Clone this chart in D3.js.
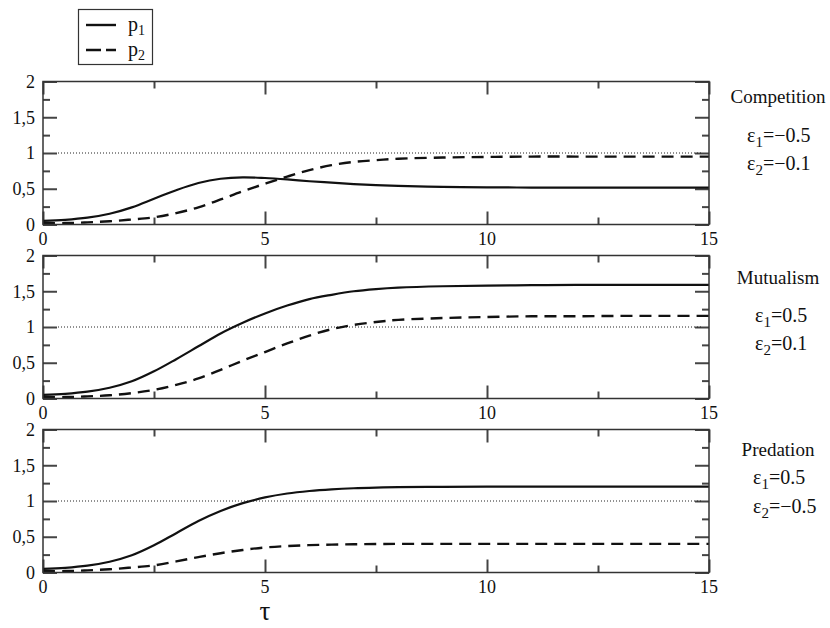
<!DOCTYPE html>
<html>
<head>
<meta charset="utf-8">
<script src="https://cdn.jsdelivr.net/npm/d3@7"></script>
<style>
  body { margin: 0; background: #fff; }
</style>
</head>
<body>
<div id="container"></div>
<script>
// time axis (tau) and the two populations for each interaction
var tau = [0,0.5,1,1.5,2,2.5,3,3.5,4,4.5,5,5.5,6,6.5,7,7.5,8,9,10,11,12,13,14,15];

var compP1 = [0.05,0.065,0.095,0.15,0.24,0.36,0.48,0.58,0.64,0.66,0.65,0.63,0.605,0.585,0.565,0.55,0.54,0.527,0.52,0.517,0.515,0.515,0.515,0.515];
var compP2 = [0.02,0.02,0.03,0.045,0.07,0.10,0.16,0.24,0.35,0.465,0.57,0.67,0.76,0.83,0.875,0.90,0.92,0.937,0.945,0.95,0.95,0.95,0.95,0.95];
var mutP1 = [0.05,0.065,0.095,0.15,0.24,0.38,0.55,0.73,0.91,1.06,1.19,1.30,1.39,1.45,1.50,1.53,1.55,1.57,1.58,1.585,1.59,1.59,1.59,1.59];
var mutP2 = [0.02,0.02,0.03,0.045,0.075,0.12,0.19,0.28,0.40,0.53,0.65,0.77,0.88,0.97,1.03,1.07,1.10,1.125,1.14,1.15,1.15,1.155,1.155,1.155];
var predP1 = [0.05,0.065,0.095,0.15,0.24,0.38,0.55,0.72,0.86,0.97,1.05,1.105,1.14,1.163,1.178,1.187,1.193,1.198,1.2,1.2,1.2,1.2,1.2,1.2];
var predP2 = [0.02,0.02,0.03,0.045,0.07,0.10,0.155,0.215,0.27,0.315,0.35,0.37,0.383,0.39,0.395,0.398,0.4,0.4,0.4,0.4,0.4,0.4,0.4,0.4];

var panelNames = ["Competition", "Mutualism", "Predation"];
var eps1 = ["\u22120.5", "0.5", "0.5"];
var eps2 = ["\u22120.1", "0.1", "\u22120.5"];
var xTicks = [0, 5, 10, 15];
var yTicks = [0, 0.5, 1, 1.5, 2];
var xMinorTicks = [2.5, 7.5, 12.5];
var yMinorTicks = [0.25, 0.75, 1.25, 1.75];

var panels = [
  {p1: compP1, p2: compP2},
  {p1: mutP1, p2: mutP2},
  {p1: predP1, p2: predP2}
];

var serif = '"Liberation Serif", serif';

var width = 830, height = 628;
var left = 43, right = 709;
var tops = [81.5, 255.5, 429.5];
var ph = 143;

var svg = d3.select("#container").append("svg")
  .attr("width", width)
  .attr("height", height)
  .style("font-family", serif);

var x = d3.scaleLinear().domain([0, 15]).range([left, right]);

// label text blocks (name + epsilon values) for each panel
var labelPos = [
  {name: 103, e1: 142, e2: 170, ex: 747},
  {name: 284, e1: 322, e2: 350, ex: 755},
  {name: 456, e1: 484, e2: 513, ex: 753}
];

function addText(sel, size) {
  return sel.append("text")
    .style("font-family", serif)
    .style("fill", "#111")
    .style("font-size", size + "px");
}

// inward tick axes, no labels
function tickAxis(g, axis, vals, len, tx, ty) {
  g.append("g")
    .attr("transform", "translate(" + tx + "," + ty + ")")
    .call(axis.tickValues(vals).tickSize(len).tickFormat(""))
    .call(function(a) { a.select(".domain").remove(); })
    .selectAll("line")
    .style("stroke", "#444")
    .style("stroke-width", "2px");
}

panels.forEach(function(p, i) {
  var pt = tops[i];
  var y = d3.scaleLinear().domain([0, 2]).range([pt + ph, pt]);
  var g = svg.append("g");

  tickAxis(g, d3.axisBottom(x), xTicks, -13, 0, pt + ph);
  tickAxis(g, d3.axisBottom(x), xMinorTicks, -7, 0, pt + ph);
  tickAxis(g, d3.axisTop(x), xTicks, -13, 0, pt);
  tickAxis(g, d3.axisTop(x), xMinorTicks, -7, 0, pt);
  tickAxis(g, d3.axisLeft(y), yTicks, -14, left, 0);
  tickAxis(g, d3.axisLeft(y), yMinorTicks, -7, left, 0);
  tickAxis(g, d3.axisRight(y), yTicks, -14, right, 0);
  tickAxis(g, d3.axisRight(y), yMinorTicks, -7, right, 0);

  // dotted reference line at 1
  g.append("line")
    .attr("x1", x(0) + 15).attr("x2", x(15) - 6)
    .attr("y1", y(1)).attr("y2", y(1))
    .style("stroke", "#222").style("stroke-width", "1px")
    .style("stroke-dasharray", "1,2");

  var line = function(vals) {
    return d3.line()
      .x(function(d, k) { return x(tau[k]); })
      .y(function(d) { return y(d); })
      .curve(d3.curveCatmullRom.alpha(0.5))(vals);
  };

  g.append("path").attr("d", line(p.p1))
    .style("fill", "none").style("stroke", "#111").style("stroke-width", "2.2px");
  g.append("path").attr("d", line(p.p2))
    .style("fill", "none").style("stroke", "#111").style("stroke-width", "2.4px")
    .style("stroke-dasharray", "12,7");

  // frame
  g.append("rect")
    .attr("x", left).attr("y", pt)
    .attr("width", right - left).attr("height", ph)
    .style("fill", "none").style("stroke", "#333").style("stroke-width", "1.5px");

  // tick labels
  yTicks.forEach(function(d) {
    addText(g, 18).attr("x", 35).attr("y", y(d)).attr("dy", "0.35em")
      .attr("text-anchor", "end")
      .text(String(d).replace(".", ","));
  });
  xTicks.forEach(function(d) {
    addText(g, 18).attr("x", x(d)).attr("y", pt + ph + 20)
      .attr("text-anchor", "middle")
      .text(d);
  });

  // right-hand description
  var lp = labelPos[i];
  addText(svg, 19).attr("x", 778).attr("y", lp.name)
    .attr("text-anchor", "middle")
    .text(panelNames[i]);
  [[1, eps1[i], lp.e1], [2, eps2[i], lp.e2]].forEach(function(e) {
    var t = addText(svg, 20).attr("x", lp.ex).attr("y", e[2]);
    t.append("tspan").text("\u03b5");
    t.append("tspan").attr("dy", 5).style("font-size", "15px").text(e[0]);
    t.append("tspan").attr("dy", -5).text("=" + e[1]);
  });
});

// tau label
addText(svg, 27).attr("x", 265).attr("y", 620)
  .attr("text-anchor", "middle")
  .text("\u03c4");

// legend
var lg = svg.append("g");
lg.append("rect").attr("x", 78.5).attr("y", 9.5).attr("width", 74).attr("height", 55)
  .style("fill", "#fff").style("stroke", "#333").style("stroke-width", "1.2px");
lg.append("line").attr("x1", 86).attr("x2", 116).attr("y1", 25).attr("y2", 25)
  .style("stroke", "#111").style("stroke-width", "2.4px");
lg.append("line").attr("x1", 86).attr("x2", 116).attr("y1", 50).attr("y2", 50)
  .style("stroke", "#111").style("stroke-width", "2.6px").style("stroke-dasharray", "15,5");
[["1", 31], ["2", 56]].forEach(function(d) {
  var t = addText(lg, 20).attr("x", 128).attr("y", d[1]);
  t.append("tspan").text("p");
  t.append("tspan").attr("dy", 4).style("font-size", "14px").text(d[0]);
});
</script>
</body>
</html>
